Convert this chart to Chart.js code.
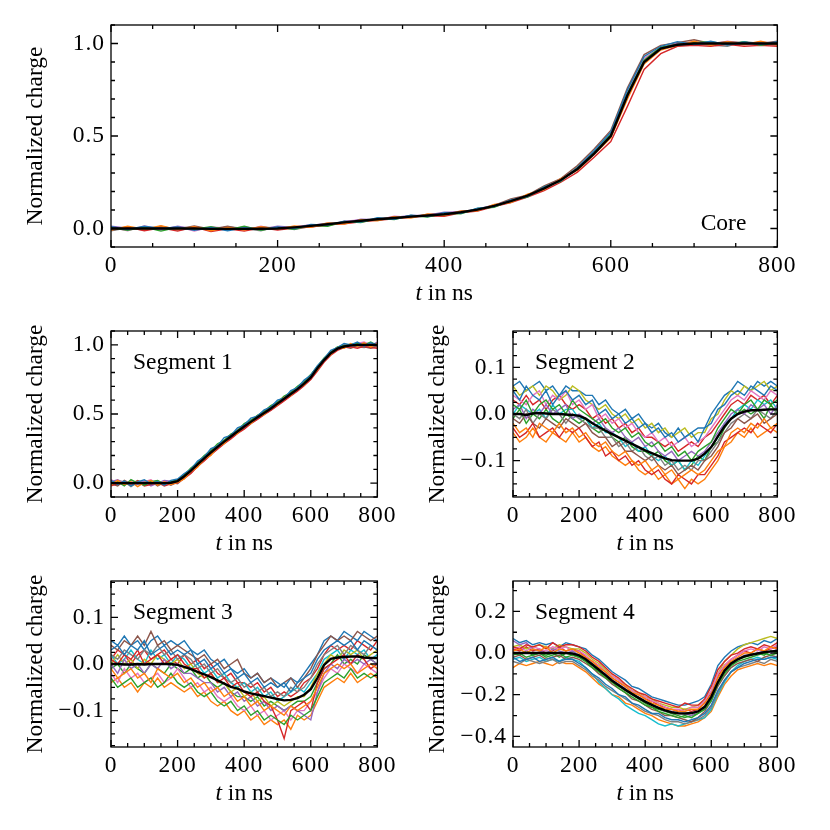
<!DOCTYPE html>
<html>
<head>
<meta charset="utf-8">
<script src="https://cdn.jsdelivr.net/npm/chart.js@4.4.1/dist/chart.umd.min.js"></script>
<style>
    body { margin: 0; background: #fff; }
    #wrap { position: relative; width: 830px; height: 830px; }
    canvas { position: absolute; }
</style>
</head>
<body>
<div id="wrap">
    <canvas id="core" width="800" height="310" style="left:0;top:0"></canvas>
    <canvas id="seg1" width="400" height="250" style="left:0;top:310px"></canvas>
    <canvas id="seg2" width="400" height="250" style="left:400px;top:310px"></canvas>
    <canvas id="seg3" width="400" height="270" style="left:0;top:560px"></canvas>
    <canvas id="seg4" width="400" height="270" style="left:400px;top:560px"></canvas>
</div>
<script>
// Sample times in ns
const tNs = [0, 20, 40, 60, 80, 100, 120, 140, 160, 180, 200, 220, 240, 260, 280, 300, 320, 340, 360, 380,
    400, 420, 440, 460, 480, 500, 520, 540, 560, 580, 600, 620, 640, 660, 680, 700, 720, 740, 760, 780, 800];

// Tick labels
const xTickValues = [0, 200, 400, 600, 800];
const coreYTicks = [0, 0.5, 1.0];
const seg1YTicks = [0, 0.5, 1.0];
const seg2YTicks = [-0.1, 0, 0.1];
const seg3YTicks = [-0.1, 0, 0.1];
const seg4YTicks = [-0.4, -0.2, 0, 0.2];

// Core
const coreMean = [0, 0, 0, 0, 0, 0, -0.002, -0.002, -0.002, -0.001, 0, 0.006, 0.014, 0.023, 0.033, 0.042, 0.05, 0.057, 0.064, 0.07,
    0.077, 0.088, 0.102, 0.122, 0.148, 0.178, 0.217, 0.262, 0.322, 0.405, 0.5, 0.72, 0.9, 0.973, 0.993, 1.0, 1.0, 1.0, 1.0, 1.0, 1.0];
const coreTraces = [
    [0.01, -0.005, 0.012, 0.0, 0.008, -0.01, 0.005, -0.012, 0.004, -0.006, 0.008, 0.0, 0.022, 0.018, 0.04, 0.035, 0.058, 0.05, 0.072, 0.064,
     0.085, 0.082, 0.11, 0.118, 0.155, 0.172, 0.225, 0.258, 0.33, 0.42, 0.52, 0.75, 0.93, 0.985, 1.01, 0.995, 1.012, 0.992, 1.008, 0.995, 1.01],
    [-0.008, 0.012, -0.004, 0.015, -0.006, 0.01, -0.012, 0.006, -0.008, 0.01, -0.004, 0.014, 0.006, 0.03, 0.024, 0.048, 0.042, 0.064, 0.056, 0.078,
     0.07, 0.095, 0.096, 0.13, 0.14, 0.185, 0.21, 0.27, 0.315, 0.4, 0.49, 0.7, 0.89, 0.965, 0.99, 1.012, 0.99, 1.01, 0.995, 1.012, 0.992],
    [0.004, -0.01, 0.008, -0.014, 0.006, -0.004, 0.01, -0.008, 0.012, -0.01, 0.006, -0.004, 0.018, 0.012, 0.038, 0.032, 0.055, 0.048, 0.07, 0.062,
     0.082, 0.08, 0.108, 0.115, 0.152, 0.17, 0.225, 0.255, 0.33, 0.41, 0.51, 0.73, 0.91, 0.98, 0.995, 1.005, 1.01, 0.995, 1.01, 0.99, 1.005],
    [-0.004, 0.008, -0.012, 0.004, -0.014, 0.008, -0.016, -0.002, -0.014, 0.004, -0.008, 0.002, 0.008, 0.02, 0.026, 0.036, 0.044, 0.052, 0.06, 0.068,
     0.066, 0.085, 0.094, 0.118, 0.14, 0.17, 0.205, 0.25, 0.305, 0.385, 0.47, 0.66, 0.86, 0.945, 0.985, 0.99, 0.985, 0.995, 0.985, 0.99, 0.985],
    [0.012, 0.002, 0.006, -0.008, 0.012, -0.002, 0.004, -0.006, 0.008, -0.004, 0.012, 0.006, 0.016, 0.028, 0.03, 0.05, 0.048, 0.06, 0.07, 0.072,
     0.088, 0.09, 0.104, 0.128, 0.148, 0.182, 0.215, 0.268, 0.32, 0.41, 0.5, 0.72, 0.9, 0.975, 1.0, 0.992, 1.005, 1.0, 0.995, 1.008, 1.0],
    [-0.01, 0.006, -0.006, 0.01, -0.002, 0.014, -0.004, 0.012, -0.006, 0.008, 0.002, 0.01, 0.01, 0.016, 0.036, 0.04, 0.05, 0.062, 0.062, 0.076,
     0.08, 0.09, 0.1, 0.125, 0.16, 0.18, 0.23, 0.27, 0.34, 0.43, 0.53, 0.76, 0.94, 0.99, 1.005, 1.02, 1.0, 1.01, 1.005, 1.0, 1.012],
    [0.006, -0.012, 0.014, -0.004, 0.01, -0.014, 0.008, 0.002, -0.01, 0.012, -0.006, 0.008, 0.02, 0.014, 0.04, 0.046, 0.046, 0.066, 0.06, 0.074,
     0.082, 0.094, 0.098, 0.124, 0.15, 0.176, 0.222, 0.26, 0.325, 0.415, 0.505, 0.74, 0.92, 0.978, 1.0, 1.008, 0.995, 1.012, 1.0, 0.99, 1.008],
    [-0.012, 0.004, -0.008, 0.012, -0.01, 0.004, -0.008, 0.01, 0.0, -0.012, 0.01, -0.006, 0.012, 0.024, 0.03, 0.04, 0.052, 0.054, 0.068, 0.066,
     0.074, 0.086, 0.1, 0.12, 0.144, 0.174, 0.212, 0.265, 0.318, 0.4, 0.495, 0.71, 0.895, 0.97, 0.99, 1.0, 0.992, 0.985, 1.01, 1.0, 0.99]
];

// Segment 1
const seg1Mean = [0, 0, 0, 0, 0, 0, 0, 0, 0, 0.003, 0.015, 0.05, 0.09, 0.135, 0.18, 0.222, 0.262, 0.3, 0.337, 0.373,
    0.41, 0.443, 0.476, 0.508, 0.54, 0.575, 0.61, 0.645, 0.68, 0.72, 0.765, 0.83, 0.89, 0.94, 0.972, 0.988, 0.996, 1.0, 1.0, 1.0, 1.0];
const seg1Traces = [
    [0.02, -0.01, 0.015, -0.02, 0.01, 0.025, -0.005, 0.012, -0.015, 0.02, 0.03, 0.07, 0.1, 0.16, 0.19, 0.25, 0.27, 0.33, 0.345, 0.4,
     0.42, 0.47, 0.485, 0.53, 0.55, 0.6, 0.615, 0.67, 0.69, 0.745, 0.78, 0.85, 0.9, 0.96, 0.98, 1.01, 1.0, 1.02, 0.99, 1.015, 1.0],
    [-0.015, 0.02, -0.01, 0.01, -0.025, 0.005, 0.02, -0.015, 0.01, -0.01, 0.005, 0.03, 0.085, 0.115, 0.175, 0.2, 0.265, 0.285, 0.34, 0.36,
     0.415, 0.43, 0.48, 0.495, 0.545, 0.565, 0.62, 0.635, 0.69, 0.71, 0.77, 0.82, 0.895, 0.93, 0.98, 0.975, 1.01, 0.99, 1.015, 0.985, 1.01],
    [0.005, 0.01, -0.02, 0.025, 0.0, -0.015, 0.01, 0.02, -0.005, 0.01, 0.025, 0.06, 0.11, 0.15, 0.2, 0.235, 0.285, 0.31, 0.355, 0.38,
     0.43, 0.455, 0.49, 0.52, 0.56, 0.585, 0.63, 0.655, 0.7, 0.735, 0.785, 0.845, 0.905, 0.95, 0.985, 0.995, 1.005, 1.01, 1.0, 1.02, 0.995],
    [-0.02, -0.005, 0.005, -0.015, 0.015, -0.02, -0.01, 0.005, -0.02, -0.005, 0.0, 0.035, 0.07, 0.12, 0.16, 0.205, 0.245, 0.285, 0.32, 0.36,
     0.39, 0.43, 0.46, 0.495, 0.525, 0.56, 0.595, 0.63, 0.665, 0.705, 0.75, 0.81, 0.875, 0.925, 0.96, 0.98, 0.985, 0.975, 0.99, 0.98, 0.975],
    [0.01, 0.025, 0.0, 0.005, -0.01, 0.015, -0.02, 0.0, 0.02, 0.015, 0.02, 0.065, 0.095, 0.15, 0.185, 0.235, 0.26, 0.31, 0.335, 0.385,
     0.405, 0.455, 0.47, 0.52, 0.535, 0.59, 0.6, 0.66, 0.675, 0.73, 0.765, 0.84, 0.885, 0.945, 0.965, 0.995, 0.99, 1.005, 1.01, 0.995, 1.02],
    [-0.005, -0.02, 0.02, -0.005, 0.02, 0.0, 0.015, -0.02, 0.005, -0.015, 0.01, 0.045, 0.08, 0.13, 0.17, 0.215, 0.255, 0.295, 0.33, 0.37,
     0.4, 0.44, 0.47, 0.5, 0.53, 0.57, 0.6, 0.64, 0.67, 0.715, 0.755, 0.825, 0.88, 0.935, 0.97, 0.985, 0.975, 0.995, 0.985, 0.975, 0.99],
    [0.025, 0.0, -0.01, 0.02, -0.005, 0.01, 0.025, -0.01, 0.015, 0.0, 0.015, 0.055, 0.105, 0.14, 0.195, 0.225, 0.275, 0.3, 0.35, 0.37,
     0.425, 0.445, 0.49, 0.51, 0.55, 0.58, 0.62, 0.645, 0.69, 0.725, 0.775, 0.835, 0.895, 0.945, 0.975, 1.0, 0.995, 1.01, 1.02, 1.0, 1.01],
    [-0.01, 0.015, 0.01, -0.025, 0.005, -0.01, 0.005, 0.015, -0.01, 0.005, -0.005, 0.04, 0.075, 0.125, 0.165, 0.21, 0.25, 0.29, 0.325, 0.365,
     0.395, 0.435, 0.465, 0.5, 0.53, 0.565, 0.6, 0.635, 0.67, 0.71, 0.755, 0.82, 0.885, 0.935, 0.965, 0.985, 0.99, 0.985, 0.98, 0.99, 0.985]
];

// Segment 2
const seg2Mean = [0.0, 0.0, -0.002, 0.001, 0.002, 0.001, 0.0, 0.0, -0.001, -0.002, -0.004, -0.01, -0.02, -0.028, -0.036, -0.043, -0.05, -0.057, -0.064, -0.071,
    -0.078, -0.084, -0.09, -0.095, -0.099, -0.1, -0.1, -0.1, -0.096, -0.085, -0.071, -0.048, -0.027, -0.01, 0.0, 0.005, 0.008, 0.008, 0.009, 0.01, 0.01];
const seg2Traces = [
    [0.05, 0.03, 0.06, 0.04, 0.03, 0.05, 0.02, 0.04, 0.05, 0.03, 0.04, 0.02, 0.03, 0.0, 0.01, -0.01, 0.0, -0.02, -0.01, -0.03,
     -0.02, -0.04, -0.03, -0.05, -0.04, -0.06, -0.05, -0.04, -0.06, -0.03, -0.02, 0.01, 0.02, 0.04, 0.05, 0.04, 0.06, 0.05, 0.04, 0.06, 0.05],
    [-0.02, -0.04, -0.03, -0.05, -0.02, -0.03, -0.04, -0.02, -0.04, -0.03, -0.05, -0.04, -0.06, -0.07, -0.06, -0.08, -0.09, -0.08, -0.1, -0.11,
     -0.1, -0.12, -0.11, -0.13, -0.12, -0.14, -0.13, -0.12, -0.13, -0.12, -0.1, -0.08, -0.07, -0.04, -0.03, -0.04, -0.02, -0.03, -0.01, -0.03, -0.02],
    [0.02, 0.01, 0.03, 0.0, 0.02, 0.03, 0.01, 0.02, 0.0, 0.03, 0.01, 0.0, -0.01, -0.02, -0.01, -0.03, -0.04, -0.03, -0.05, -0.04,
     -0.06, -0.07, -0.06, -0.08, -0.07, -0.09, -0.08, -0.1, -0.08, -0.07, -0.06, -0.03, -0.01, 0.01, 0.0, 0.02, 0.03, 0.01, 0.03, 0.02, 0.03],
    [-0.03, -0.05, -0.04, -0.02, -0.05, -0.04, -0.03, -0.05, -0.03, -0.04, -0.03, -0.05, -0.07, -0.06, -0.09, -0.08, -0.1, -0.09, -0.11, -0.1,
     -0.12, -0.13, -0.12, -0.14, -0.15, -0.13, -0.14, -0.15, -0.13, -0.13, -0.11, -0.09, -0.06, -0.05, -0.04, -0.03, -0.04, -0.02, -0.03, -0.04, -0.02],
    [0.01, 0.02, -0.01, 0.01, 0.0, 0.02, 0.0, 0.01, 0.02, -0.01, 0.0, -0.01, -0.02, -0.01, -0.03, -0.04, -0.03, -0.05, -0.06, -0.05,
     -0.07, -0.06, -0.08, -0.09, -0.08, -0.1, -0.09, -0.08, -0.09, -0.08, -0.06, -0.04, -0.02, 0.0, 0.01, 0.0, 0.02, 0.01, 0.02, 0.0, 0.02],
    [-0.01, -0.02, 0.0, -0.02, -0.03, -0.01, -0.02, -0.03, -0.01, -0.02, -0.03, -0.02, -0.04, -0.05, -0.05, -0.07, -0.06, -0.08, -0.08, -0.09,
     -0.1, -0.09, -0.11, -0.12, -0.11, -0.13, -0.12, -0.11, -0.12, -0.1, -0.09, -0.07, -0.04, -0.03, -0.01, -0.02, -0.01, 0.0, -0.02, -0.01, 0.0],
    [0.04, 0.03, 0.02, 0.04, 0.05, 0.02, 0.04, 0.03, 0.05, 0.02, 0.03, 0.01, 0.02, -0.01, 0.0, -0.02, -0.01, -0.03, -0.02, -0.04,
     -0.05, -0.04, -0.06, -0.05, -0.07, -0.06, -0.05, -0.07, -0.06, -0.05, -0.03, -0.01, 0.01, 0.03, 0.04, 0.03, 0.05, 0.04, 0.03, 0.05, 0.04],
    [0.0, -0.01, 0.01, -0.02, 0.0, -0.01, 0.01, 0.0, -0.02, 0.0, -0.01, -0.02, -0.03, -0.03, -0.05, -0.05, -0.07, -0.06, -0.08, -0.07,
     -0.09, -0.1, -0.09, -0.11, -0.1, -0.12, -0.11, -0.12, -0.1, -0.1, -0.08, -0.06, -0.04, -0.02, -0.01, 0.0, -0.01, 0.01, 0.0, -0.01, 0.01],
    [0.06, 0.04, 0.05, 0.06, 0.04, 0.06, 0.05, 0.03, 0.04, 0.06, 0.05, 0.03, 0.02, 0.01, 0.02, 0.0, -0.01, 0.0, -0.02, -0.01,
     -0.03, -0.02, -0.04, -0.03, -0.05, -0.04, -0.03, -0.05, -0.04, -0.04, -0.01, 0.0, 0.03, 0.05, 0.04, 0.06, 0.05, 0.06, 0.07, 0.05, 0.06],
    [0.0, 0.02, 0.01, 0.0, 0.01, -0.01, 0.02, 0.0, 0.01, 0.01, -0.01, -0.01, -0.03, -0.02, -0.04, -0.04, -0.05, -0.07, -0.06, -0.08,
     -0.07, -0.09, -0.1, -0.09, -0.11, -0.1, -0.12, -0.1, -0.11, -0.09, -0.07, -0.05, -0.02, -0.01, 0.01, 0.02, 0.01, 0.03, 0.02, 0.03, 0.01],
    [0.06, 0.07, 0.05, 0.06, 0.07, 0.05, 0.06, 0.04, 0.06, 0.05, 0.05, 0.04, 0.04, 0.02, 0.03, 0.01, 0.0, 0.01, -0.01, 0.0,
     -0.02, -0.03, -0.02, -0.04, -0.05, -0.03, -0.05, -0.04, -0.03, -0.03, 0.0, 0.02, 0.04, 0.05, 0.07, 0.06, 0.05, 0.07, 0.06, 0.07, 0.06],
    [-0.04, -0.06, -0.05, -0.03, -0.05, -0.06, -0.04, -0.05, -0.06, -0.04, -0.06, -0.05, -0.07, -0.08, -0.07, -0.09, -0.1, -0.11, -0.1, -0.12,
     -0.13, -0.12, -0.14, -0.13, -0.15, -0.14, -0.16, -0.14, -0.15, -0.14, -0.12, -0.1, -0.07, -0.06, -0.04, -0.05, -0.03, -0.05, -0.04, -0.03, -0.04],
    [-0.01, 0.01, -0.02, 0.0, -0.01, 0.01, -0.01, -0.02, 0.0, -0.01, -0.02, -0.01, -0.03, -0.04, -0.03, -0.05, -0.06, -0.05, -0.07, -0.08,
     -0.08, -0.09, -0.08, -0.1, -0.11, -0.1, -0.12, -0.11, -0.09, -0.1, -0.07, -0.06, -0.03, -0.01, 0.0, 0.01, 0.0, 0.01, -0.01, 0.02, 0.0],
    [0.03, 0.02, 0.04, 0.02, 0.03, 0.01, 0.03, 0.04, 0.02, 0.01, 0.02, 0.01, -0.01, 0.0, -0.02, -0.01, -0.03, -0.02, -0.04, -0.03,
     -0.05, -0.05, -0.06, -0.07, -0.06, -0.08, -0.07, -0.06, -0.07, -0.05, -0.04, -0.02, 0.0, 0.02, 0.03, 0.02, 0.04, 0.03, 0.04, 0.02, 0.04]
];

// Segment 3
const seg3Mean = [0, 0, -0.001, -0.001, 0, -0.001, 0, 0, 0, 0, -0.002, -0.006, -0.011, -0.017, -0.022, -0.028, -0.035, -0.042, -0.049, -0.053,
    -0.059, -0.063, -0.066, -0.069, -0.072, -0.075, -0.078, -0.077, -0.073, -0.066, -0.054, -0.03, -0.002, 0.011, 0.014, 0.015, 0.016, 0.016, 0.014, 0.013, 0.013];
const seg3Traces = [
    [0.03, 0.04, 0.02, 0.04, 0.03, 0.05, 0.02, 0.03, 0.04, 0.02, 0.03, 0.02, 0.03, 0.0, 0.01, -0.01, 0.0, -0.02, -0.01, -0.03,
     -0.02, -0.04, -0.03, -0.05, -0.04, -0.05, -0.04, -0.06, -0.04, -0.03, -0.02, 0.01, 0.03, 0.04, 0.05, 0.04, 0.05, 0.03, 0.05, 0.04, 0.03],
    [-0.01, -0.03, -0.02, -0.01, -0.03, -0.02, -0.04, -0.01, -0.02, -0.03, -0.02, -0.04, -0.03, -0.05, -0.04, -0.06, -0.05, -0.07, -0.06, -0.08,
     -0.07, -0.09, -0.08, -0.1, -0.09, -0.1, -0.11, -0.09, -0.1, -0.09, -0.08, -0.05, -0.02, -0.01, 0.0, -0.01, 0.0, -0.02, -0.01, 0.0, -0.01],
    [-0.03, -0.05, -0.04, -0.03, -0.05, -0.04, -0.03, -0.05, -0.04, -0.02, -0.04, -0.05, -0.04, -0.06, -0.07, -0.06, -0.08, -0.09, -0.08, -0.1,
     -0.09, -0.11, -0.1, -0.12, -0.11, -0.12, -0.13, -0.11, -0.12, -0.11, -0.1, -0.07, -0.04, -0.03, -0.02, -0.03, -0.01, -0.03, -0.02, -0.03, -0.02],
    [0.01, 0.0, 0.02, 0.01, 0.03, 0.0, 0.01, 0.02, 0.0, 0.01, 0.02, 0.0, -0.01, -0.01, -0.03, -0.02, -0.04, -0.03, -0.05, -0.04,
     -0.06, -0.07, -0.06, -0.08, -0.09, -0.12, -0.16, -0.1, -0.09, -0.08, -0.1, -0.04, -0.01, 0.0, 0.01, 0.02, 0.0, 0.02, 0.01, -0.01, 0.0],
    [0.0, -0.02, 0.01, -0.01, 0.0, -0.02, 0.0, -0.01, 0.01, -0.01, 0.0, -0.02, -0.02, -0.03, -0.04, -0.04, -0.06, -0.05, -0.07, -0.06,
     -0.08, -0.07, -0.09, -0.08, -0.1, -0.09, -0.1, -0.09, -0.1, -0.11, -0.12, -0.06, -0.02, 0.0, -0.01, 0.01, 0.0, 0.01, 0.0, 0.01, 0.0],
    [0.04, 0.03, 0.05, 0.04, 0.06, 0.04, 0.07, 0.04, 0.05, 0.03, 0.04, 0.03, 0.02, 0.01, 0.02, 0.0, 0.01, -0.01, 0.0, 0.01,
     -0.02, -0.03, -0.02, -0.04, -0.03, -0.05, -0.04, -0.03, -0.05, -0.03, -0.01, 0.02, 0.04, 0.06, 0.05, 0.06, 0.05, 0.07, 0.06, 0.05, 0.06],
    [-0.02, -0.04, -0.01, -0.03, -0.02, -0.04, -0.03, -0.02, -0.04, -0.03, -0.01, -0.03, -0.05, -0.04, -0.06, -0.05, -0.07, -0.08, -0.07, -0.09,
     -0.1, -0.09, -0.11, -0.1, -0.12, -0.11, -0.1, -0.12, -0.1, -0.1, -0.08, -0.06, -0.03, -0.01, -0.02, 0.0, -0.01, -0.02, 0.0, -0.01, -0.02],
    [0.02, 0.01, 0.03, 0.02, 0.01, 0.03, 0.02, 0.04, 0.02, 0.03, 0.01, 0.02, 0.01, -0.01, 0.0, -0.02, -0.01, -0.03, -0.04, -0.03,
     -0.05, -0.04, -0.06, -0.05, -0.07, -0.06, -0.07, -0.05, -0.06, -0.05, -0.03, 0.0, 0.02, 0.03, 0.04, 0.02, 0.04, 0.03, 0.02, 0.04, 0.03],
    [0.0, 0.02, 0.0, 0.01, -0.01, 0.01, 0.0, 0.02, 0.01, 0.0, 0.01, -0.01, 0.0, -0.02, -0.03, -0.02, -0.04, -0.04, -0.06, -0.05,
     -0.07, -0.06, -0.08, -0.07, -0.09, -0.08, -0.09, -0.08, -0.07, -0.07, -0.05, -0.02, 0.0, 0.02, 0.01, 0.03, 0.02, 0.03, 0.01, 0.02, 0.03],
    [0.02, 0.0, 0.01, 0.03, 0.01, 0.0, 0.03, 0.01, 0.02, 0.0, 0.02, 0.01, -0.01, 0.0, -0.02, -0.01, -0.03, -0.02, -0.04, -0.05,
     -0.04, -0.06, -0.05, -0.07, -0.06, -0.08, -0.07, -0.06, -0.05, -0.06, -0.04, -0.02, 0.01, 0.02, 0.03, 0.01, 0.03, 0.02, 0.03, 0.01, 0.02],
    [0.05, 0.04, 0.06, 0.04, 0.05, 0.03, 0.05, 0.06, 0.04, 0.05, 0.04, 0.05, 0.03, 0.02, 0.03, 0.01, 0.0, 0.01, -0.01, -0.02,
     -0.01, -0.03, -0.02, -0.04, -0.03, -0.04, -0.05, -0.03, -0.04, -0.02, 0.0, 0.02, 0.05, 0.06, 0.05, 0.07, 0.06, 0.05, 0.07, 0.06, 0.05],
    [-0.04, -0.03, -0.05, -0.04, -0.06, -0.04, -0.05, -0.03, -0.05, -0.04, -0.05, -0.06, -0.05, -0.07, -0.06, -0.08, -0.09, -0.08, -0.1, -0.11,
     -0.1, -0.12, -0.11, -0.13, -0.12, -0.13, -0.12, -0.14, -0.11, -0.12, -0.11, -0.08, -0.05, -0.04, -0.03, -0.04, -0.02, -0.04, -0.03, -0.02, -0.03],
    [-0.01, 0.0, -0.02, 0.0, -0.01, -0.02, 0.0, -0.01, -0.02, 0.0, -0.01, -0.02, -0.01, -0.03, -0.02, -0.04, -0.05, -0.04, -0.06, -0.07,
     -0.07, -0.08, -0.07, -0.09, -0.08, -0.09, -0.1, -0.09, -0.08, -0.08, -0.07, -0.04, -0.01, 0.0, 0.02, 0.0, 0.01, 0.0, 0.02, 0.01, 0.0],
    [0.01, 0.03, 0.02, 0.0, 0.02, 0.03, 0.01, 0.02, 0.03, 0.01, 0.0, 0.02, 0.0, 0.01, -0.01, 0.0, -0.02, -0.03, -0.02, -0.04,
     -0.04, -0.05, -0.04, -0.06, -0.05, -0.07, -0.06, -0.07, -0.06, -0.04, -0.03, -0.01, 0.02, 0.04, 0.03, 0.04, 0.03, 0.05, 0.04, 0.03, 0.05]
];

// Segment 4
const seg4Mean = [0, 0, 0, 0, 0, 0, 0, 0, 0, -0.002, -0.011, -0.03, -0.055, -0.08, -0.106, -0.133, -0.155, -0.176, -0.196, -0.215,
    -0.233, -0.249, -0.263, -0.275, -0.284, -0.289, -0.29, -0.288, -0.28, -0.258, -0.21, -0.14, -0.085, -0.05, -0.03, -0.016, -0.008, -0.002, 0.004, 0.008, 0.01];
const seg4Traces = [
    [-0.02, -0.04, -0.03, -0.02, -0.04, -0.03, -0.02, -0.04, -0.03, -0.03, -0.05, -0.07, -0.1, -0.12, -0.15, -0.17, -0.2, -0.21, -0.24, -0.25,
     -0.27, -0.29, -0.29, -0.31, -0.32, -0.32, -0.33, -0.32, -0.31, -0.29, -0.25, -0.18, -0.13, -0.09, -0.07, -0.05, -0.04, -0.03, -0.03, -0.02, -0.02],
    [0.01, 0.02, 0.0, 0.02, 0.01, 0.03, 0.0, 0.02, 0.01, 0.02, 0.0, -0.02, -0.04, -0.07, -0.09, -0.12, -0.14, -0.16, -0.19, -0.2,
     -0.22, -0.24, -0.25, -0.27, -0.27, -0.28, -0.28, -0.27, -0.27, -0.24, -0.2, -0.12, -0.07, -0.04, -0.02, 0.0, 0.0, 0.02, 0.01, 0.03, 0.02],
    [-0.01, 0.0, -0.02, -0.01, 0.0, -0.02, -0.01, 0.0, -0.02, -0.01, -0.02, -0.04, -0.07, -0.09, -0.12, -0.14, -0.17, -0.19, -0.21, -0.23,
     -0.25, -0.26, -0.28, -0.29, -0.3, -0.31, -0.3, -0.31, -0.29, -0.27, -0.23, -0.15, -0.1, -0.06, -0.04, -0.03, -0.02, -0.01, 0.0, -0.01, 0.0],
    [0.03, 0.02, 0.04, 0.03, 0.04, 0.02, 0.05, 0.03, 0.04, 0.04, 0.03, 0.01, -0.02, -0.04, -0.07, -0.1, -0.12, -0.15, -0.17, -0.19,
     -0.2, -0.22, -0.23, -0.24, -0.25, -0.26, -0.24, -0.25, -0.25, -0.22, -0.16, -0.08, -0.04, -0.01, 0.0, 0.02, 0.03, 0.02, 0.04, 0.03, 0.05],
    [0.06, 0.04, 0.05, 0.02, 0.01, 0.0, 0.02, 0.01, 0.0, 0.01, -0.01, -0.03, -0.05, -0.08, -0.1, -0.13, -0.15, -0.17, -0.2, -0.21,
     -0.23, -0.25, -0.26, -0.28, -0.28, -0.29, -0.29, -0.3, -0.28, -0.26, -0.21, -0.14, -0.08, -0.05, -0.03, -0.01, -0.01, 0.0, 0.01, 0.0, 0.02],
    [-0.02, -0.01, -0.03, -0.02, -0.01, -0.03, -0.02, -0.01, -0.03, -0.02, -0.03, -0.05, -0.07, -0.1, -0.12, -0.15, -0.17, -0.19, -0.22, -0.23,
     -0.25, -0.27, -0.28, -0.3, -0.3, -0.31, -0.32, -0.33, -0.31, -0.28, -0.23, -0.16, -0.11, -0.07, -0.05, -0.04, -0.03, -0.04, -0.02, -0.01, -0.02],
    [0.02, 0.03, 0.01, 0.03, 0.02, 0.01, 0.03, 0.02, 0.03, 0.01, 0.01, -0.01, -0.04, -0.06, -0.09, -0.11, -0.13, -0.16, -0.18, -0.2,
     -0.21, -0.23, -0.24, -0.26, -0.27, -0.27, -0.28, -0.26, -0.26, -0.23, -0.18, -0.1, -0.06, -0.03, -0.01, 0.01, 0.02, 0.01, 0.03, 0.02, 0.04],
    [-0.04, -0.05, -0.03, -0.04, -0.05, -0.04, -0.03, -0.05, -0.04, -0.04, -0.06, -0.08, -0.11, -0.13, -0.16, -0.18, -0.2, -0.22, -0.24, -0.26,
     -0.28, -0.29, -0.3, -0.32, -0.33, -0.33, -0.34, -0.33, -0.32, -0.3, -0.26, -0.19, -0.13, -0.09, -0.07, -0.06, -0.05, -0.04, -0.05, -0.03, -0.04],
    [0.03, 0.04, 0.02, 0.03, 0.04, 0.03, 0.02, 0.04, 0.03, 0.02, 0.02, 0.0, -0.03, -0.05, -0.08, -0.11, -0.13, -0.15, -0.18, -0.19,
     -0.21, -0.22, -0.24, -0.25, -0.26, -0.26, -0.27, -0.26, -0.25, -0.23, -0.18, -0.1, -0.04, -0.01, 0.02, 0.04, 0.05, 0.06, 0.07, 0.08, 0.07],
    [-0.03, -0.02, -0.04, -0.03, -0.02, -0.04, -0.03, -0.04, -0.02, -0.03, -0.04, -0.07, -0.1, -0.14, -0.17, -0.2, -0.22, -0.25, -0.27, -0.29,
     -0.3, -0.32, -0.34, -0.35, -0.34, -0.35, -0.34, -0.33, -0.32, -0.31, -0.27, -0.2, -0.14, -0.09, -0.06, -0.04, -0.03, -0.02, -0.03, -0.02, -0.03],
    [0.07, 0.05, 0.06, 0.04, 0.05, 0.04, 0.05, 0.03, 0.05, 0.04, 0.03, 0.02, -0.01, -0.03, -0.06, -0.09, -0.11, -0.13, -0.16, -0.17,
     -0.19, -0.21, -0.22, -0.23, -0.24, -0.25, -0.25, -0.24, -0.23, -0.21, -0.15, -0.06, -0.02, 0.01, 0.03, 0.04, 0.05, 0.04, 0.06, 0.05, 0.07],
    [-0.07, -0.05, -0.06, -0.05, -0.04, -0.05, -0.06, -0.04, -0.05, -0.05, -0.07, -0.09, -0.12, -0.15, -0.17, -0.2, -0.21, -0.24, -0.25, -0.27,
     -0.29, -0.3, -0.32, -0.33, -0.34, -0.35, -0.35, -0.34, -0.33, -0.31, -0.28, -0.21, -0.15, -0.11, -0.08, -0.07, -0.06, -0.05, -0.06, -0.05, -0.06],
    [0.0, -0.01, 0.01, -0.01, 0.0, -0.01, 0.0, -0.02, 0.0, -0.01, -0.02, -0.04, -0.06, -0.09, -0.11, -0.14, -0.16, -0.18, -0.2, -0.22,
     -0.24, -0.26, -0.27, -0.28, -0.29, -0.3, -0.31, -0.3, -0.29, -0.27, -0.22, -0.14, -0.09, -0.06, -0.03, -0.02, -0.01, 0.0, -0.01, 0.01, 0.0],
    [0.02, 0.01, 0.03, 0.01, 0.02, 0.0, 0.01, 0.03, 0.01, 0.02, 0.01, -0.02, -0.04, -0.06, -0.09, -0.12, -0.14, -0.16, -0.18, -0.2,
     -0.22, -0.23, -0.25, -0.26, -0.27, -0.28, -0.27, -0.28, -0.27, -0.24, -0.19, -0.11, -0.06, -0.03, -0.01, 0.01, 0.0, 0.02, 0.01, 0.02, 0.03]
];

// Style
const TAB10 = ['#1f77b4', '#ff7f0e', '#2ca02c', '#d62728', '#9467bd', '#8c564b', '#e377c2', '#7f7f7f', '#bcbd22', '#17becf'];
const FONT = '"Liberation Serif", "Times New Roman", serif';
const FONT_SIZE = 23.5;     // axis titles and panel names
const TICK_SIZE = 23.5;     // tick labels (drawn with a little letter spacing)
const X_MAJOR = 200, X_MINOR = 50;

function toPoints(values) {
    return values.map((v, i) => ({ x: tNs[i], y: v }));
}

function fmtY(v) {
    return (v < 0 ? '\u2212' : '') + Math.abs(v).toFixed(1);
}

// Draws the boxed frame, inward ticks on all sides and the text labels
function framePlugin(cfg) {
    return {
        id: 'frame_' + cfg.id,
        beforeDraw(chart) {
            chart.ctx.letterSpacing = '1px';
        },
        afterDraw(chart) {
            const { ctx, chartArea: a } = chart;
            const xs = chart.scales.x, ys = chart.scales.y;
            ctx.save();
            ctx.letterSpacing = '0px';
            ctx.strokeStyle = '#000';
            ctx.lineWidth = 1.3;
            ctx.strokeRect(a.left, a.top, a.right - a.left, a.bottom - a.top);

            ctx.beginPath();
            for (let v = 0; v <= 800; v += X_MINOR) {
                const len = v % X_MAJOR === 0 ? 7 : 4;
                const px = xs.getPixelForValue(v);
                ctx.moveTo(px, a.bottom); ctx.lineTo(px, a.bottom - len);
                ctx.moveTo(px, a.top); ctx.lineTo(px, a.top + len);
            }
            const k0 = Math.ceil(cfg.yMin / cfg.yMinor - 1e-6);
            const k1 = Math.floor(cfg.yMax / cfg.yMinor + 1e-6);
            for (let k = k0; k <= k1; k++) {
                const v = k * cfg.yMinor;
                const r = v / cfg.yMajor;
                const len = Math.abs(r - Math.round(r)) < 1e-6 ? 7 : 4;
                const py = ys.getPixelForValue(v);
                ctx.moveTo(a.left, py); ctx.lineTo(a.left + len, py);
                ctx.moveTo(a.right, py); ctx.lineTo(a.right - len, py);
            }
            ctx.stroke();

            ctx.fillStyle = '#000';
            // y axis title
            ctx.font = `${FONT_SIZE}px ${FONT}`;
            ctx.save();
            ctx.translate(a.left - 75, (a.top + a.bottom) / 2);
            ctx.rotate(-Math.PI / 2);
            ctx.textAlign = 'center';
            ctx.textBaseline = 'middle';
            ctx.fillText('Normalized charge', 0, 0);
            ctx.restore();

            // x axis title: italic t + " in ns"
            const italic = `italic ${FONT_SIZE}px ${FONT}`;
            const normal = `${FONT_SIZE}px ${FONT}`;
            ctx.font = italic;
            const wT = ctx.measureText('t').width;
            ctx.font = normal;
            const wRest = ctx.measureText(' in ns').width;
            const x0 = (a.left + a.right) / 2 - (wT + wRest) / 2;
            const yb = a.bottom + 53;
            ctx.textAlign = 'left';
            ctx.textBaseline = 'alphabetic';
            ctx.font = italic;
            ctx.fillText('t', x0, yb);
            ctx.font = normal;
            ctx.fillText(' in ns', x0 + wT, yb);

            // panel label
            if (cfg.labelRight) {
                ctx.textAlign = 'right';
                ctx.fillText(cfg.label, a.right - 31, a.bottom - 17);
            } else {
                ctx.textAlign = 'left';
                ctx.fillText(cfg.label, a.left + 22, a.top + 38);
            }
            ctx.restore();
        }
    };
}

function makePanel(cfg) {
    // mean first so it is drawn on top of the single traces
    const datasets = [{ data: toPoints(cfg.mean), borderColor: '#000', borderWidth: 2.4 }];
    cfg.traces.forEach((tr, i) => {
        datasets.push({ data: toPoints(tr), borderColor: TAB10[i % TAB10.length], borderWidth: 1.4 });
    });

    new Chart(document.getElementById(cfg.id), {
        type: 'line',
        data: { datasets },
        options: {
            responsive: false,
            animation: false,
            devicePixelRatio: 1,
            layout: { padding: { top: cfg.padTop, right: cfg.padRight, left: 0, bottom: 0 } },
            elements: { point: { radius: 0 }, line: { tension: 0 } },
            plugins: { legend: { display: false }, tooltip: { enabled: false } },
            scales: {
                x: {
                    type: 'linear', min: 0, max: 800,
                    grid: { display: false, drawTicks: false },
                    border: { display: false },
                    ticks: {
                        color: '#000', padding: 5, autoSkip: false, maxRotation: 0,
                        font: { family: FONT, size: TICK_SIZE },
                        callback: v => String(v)
                    },
                    afterBuildTicks: s => { s.ticks = xTickValues.map(v => ({ value: v })); },
                    afterFit: s => { s.height = cfg.xHeight; }
                },
                y: {
                    type: 'linear', min: cfg.yMin, max: cfg.yMax,
                    grid: { display: false, drawTicks: false },
                    border: { display: false },
                    ticks: {
                        color: '#000', padding: 6, autoSkip: false,
                        font: { family: FONT, size: TICK_SIZE },
                        callback: v => fmtY(v)
                    },
                    afterBuildTicks: s => { s.ticks = cfg.yTicks.map(v => ({ value: v })); },
                    afterFit: s => { s.width = cfg.yWidth; }
                }
            }
        },
        plugins: [framePlugin(cfg)]
    });
}

makePanel({ id: 'core', mean: coreMean, traces: coreTraces, yTicks: coreYTicks, yMin: -0.1, yMax: 1.1, yMajor: 0.5, yMinor: 0.1,
    padTop: 25, padRight: 14, yWidth: 111, xHeight: 63, label: 'Core', labelRight: true });
makePanel({ id: 'seg1', mean: seg1Mean, traces: seg1Traces, yTicks: seg1YTicks, yMin: -0.1, yMax: 1.1, yMajor: 0.5, yMinor: 0.1,
    padTop: 21, padRight: 15, yWidth: 111, xHeight: 63, label: 'Segment 1' });
makePanel({ id: 'seg2', mean: seg2Mean, traces: seg2Traces, yTicks: seg2YTicks, yMin: -0.178, yMax: 0.178, yMajor: 0.1, yMinor: 0.025,
    padTop: 21, padRight: 14, yWidth: 113, xHeight: 63, label: 'Segment 2' });
makePanel({ id: 'seg3', mean: seg3Mean, traces: seg3Traces, yTicks: seg3YTicks, yMin: -0.178, yMax: 0.178, yMajor: 0.1, yMinor: 0.025,
    padTop: 21, padRight: 15, yWidth: 111, xHeight: 83, label: 'Segment 3' });
makePanel({ id: 'seg4', mean: seg4Mean, traces: seg4Traces, yTicks: seg4YTicks, yMin: -0.451, yMax: 0.346, yMajor: 0.2, yMinor: 0.1,
    padTop: 21, padRight: 14, yWidth: 113, xHeight: 83, label: 'Segment 4' });
</script>
</body>
</html>
